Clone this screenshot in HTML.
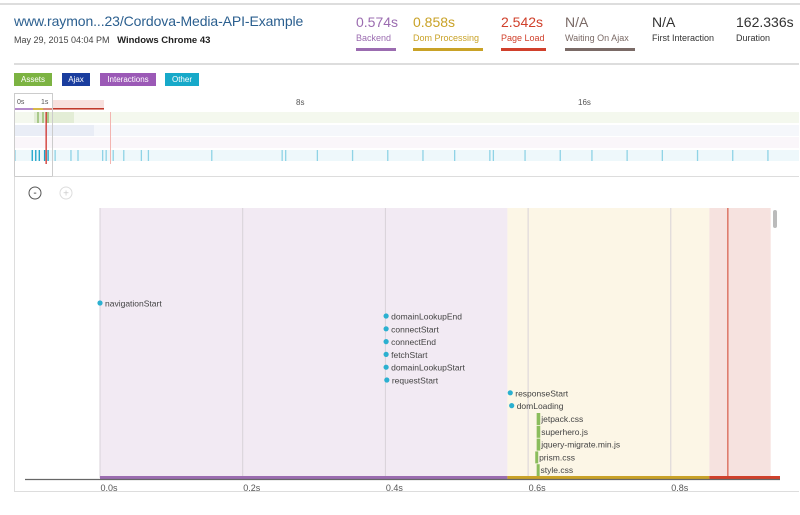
<!DOCTYPE html>
<html><head><meta charset="utf-8">
<style>
body{margin:0;width:800px;height:515px;background:#fff;font-family:"Liberation Sans",sans-serif;position:relative;overflow:hidden}
.a{position:absolute}
</style></head><body>
<div class="a" style="left:0;top:3px;width:800px;height:2px;background:#ddd"></div>
<div class="a" style="left:14px;top:13px;font-size:14px;letter-spacing:-0.1px;color:#2b5f8f">www.raymon...23/Cordova-Media-API-Example</div>
<div class="a" style="left:14px;top:35px;font-size:9px;color:#444">May 29, 2015 04:04 PM &nbsp; <b style="color:#222;font-size:9.5px">Windows Chrome 43</b></div>
<div id="metrics"></div>
<div class="a" style="left:14px;top:63px;width:785px;height:2px;background:#ddd"></div>
<div class="a" style="left:14px;top:73px;width:38px;height:13px;background:#7cb342;color:#fff;font-size:8px;text-align:center;line-height:13px">Assets</div>
<div class="a" style="left:62px;top:73px;width:28px;height:13px;background:#1a3d9e;color:#fff;font-size:8px;text-align:center;line-height:13px">Ajax</div>
<div class="a" style="left:100px;top:73px;width:56px;height:13px;background:#9b59b6;color:#fff;font-size:8px;text-align:center;line-height:13px">Interactions</div>
<div class="a" style="left:165px;top:73px;width:34px;height:13px;background:#17a9c9;color:#fff;font-size:8px;text-align:center;line-height:13px">Other</div>
<svg class="a" style="left:0;top:0" width="800" height="515" id="svg"></svg>
<script>
const metricValues=["0.574s","0.858s","2.542s","N/A","N/A","162.336s"];
const metricLabels=["Backend","Dom Processing","Page Load","Waiting On Ajax","First Interaction","Duration"];
const metricColors=["#9b6cb0","#c9a227","#d0402b","#7a6a66","#333","#333"];
const metricX=[356,413,501,565,652,736];
const metricBar=[40,70,45,70,0,0];
const markerNames=["navigationStart","domainLookupEnd","connectStart","connectEnd","fetchStart","domainLookupStart","requestStart","responseStart","domLoading"];
const markerTimes=[0,0.401,0.401,0.401,0.401,0.401,0.402,0.575,0.577];
const assetNames=["jetpack.css","superhero.js","jquery-migrate.min.js","prism.css","style.css"];
const assetStart=[0.612,0.612,0.612,0.61,0.612];
const assetEnd=[0.617,0.617,0.617,0.614,0.616];
const xTicks=[0,0.2,0.4,0.6,0.8];
const backendEnd=0.571, domEnd=0.854, loadEnd=0.94, loadLine=0.88;
const overviewTicks=[0,0.5,0.6,0.7,0.85,0.95,1.15,1.6,1.8,2.5,2.6,2.8,3.1,3.6,3.8,5.6,7.6,7.7,8.6,9.6,10.6,11.6,12.5,13.5,13.6,14.5,15.5,16.4,17.4,18.4,19.4,20.4,21.4];

const NS="http://www.w3.org/2000/svg",svg=document.getElementById('svg');
function el(tag,at,txt){const e=document.createElementNS(NS,tag);for(const k in at)e.setAttribute(k,at[k]);if(txt!=null)e.textContent=txt;svg.appendChild(e);return e;}
const X=t=>100+t*713.5;
const m=document.getElementById('metrics');
metricValues.forEach((v,i)=>{
 const d=document.createElement('div');d.className='a';
 
 
 d.style.cssText=`left:${metricX[i]}px;top:14px;color:${metricColors[i]}`;
 d.innerHTML=`<div style="font-size:14px">${v}</div><div style="font-size:9px;margin-top:3px">${metricLabels[i]}</div>`+(metricBar[i]?`<div style="width:${metricBar[i]}px;height:3px;background:${metricColors[i]};margin-top:5px"></div>`:'');
 m.appendChild(d);
});
const OX=t=>14+t*35.2;
let r;
r=el('rect',{x:14,y:112,width:785,height:11,fill:'#f4f8ee'});
el('rect',{x:34,y:112,width:40,height:11,fill:'#e3edd6'});
el('rect',{x:37,y:112,width:2,height:11,fill:'#a9c98a'});el('rect',{x:42,y:112,width:2,height:11,fill:'#a9c98a'});el('rect',{x:46,y:112,width:3,height:11,fill:'#a9c98a'});
r=el('rect',{x:14,y:125,width:785,height:11,fill:'#f5f7fb'});
el('rect',{x:14,y:125,width:80,height:11,fill:'#e9edf6'});
r=el('rect',{x:14,y:137,width:785,height:11,fill:'#faf6fa'});
r=el('rect',{x:14,y:150,width:785,height:11,fill:'#eef8fb'});
overviewTicks.forEach((t,i)=>{const e=el('rect',{x:OX(t),y:150,width:1.3,height:11,fill:i<6?'#1aa3c9':'#8fd3e6'});

});
el('rect',{x:52,y:100,width:52,height:10,fill:'#f8e0dd'});
el('rect',{x:52,y:108,width:52,height:1.5,fill:'#c0392b'});
el('rect',{x:14,y:108,width:19,height:2,fill:'#b48acb'});el('rect',{x:33,y:108,width:10,height:2,fill:'#d8b847'});el('rect',{x:43,y:108,width:9,height:2,fill:'#d88a7f'});
el('rect',{x:45.5,y:112,width:1.3,height:52,fill:'#d0302b'});
el('rect',{x:110,y:112,width:1,height:52,fill:'#f3b4b0'});
r=el('rect',{x:14.5,y:93.5,width:38,height:83,fill:'none',stroke:'#ccc'});
el('text',{x:17,y:104,'font-size':7,fill:'#555'},'0s');el('text',{x:41,y:104,'font-size':7,fill:'#555'},'1s');
el('text',{x:296,y:105,'font-size':8,fill:'#555'},'8s');el('text',{x:578,y:105,'font-size':8,fill:'#555'},'16s');
el('path',{d:'M52.5 176.5H799 M14.5 176.5V491.5H799',fill:'none',stroke:'#ddd'});
r=el('circle',{cx:35,cy:193,r:6,fill:'#fff',stroke:'#555'});
el('text',{x:35,y:196,'font-size':10,'text-anchor':'middle',fill:'#333'},'-');
r=el('circle',{cx:66,cy:193,r:6,fill:'#fff',stroke:'#ddd'});
el('text',{x:66,y:196.5,'font-size':10,'text-anchor':'middle',fill:'#ccc'},'+');
r=el('rect',{x:X(0),y:208,width:X(backendEnd)-X(0),height:270,fill:'#f2eaf3'});
r=el('rect',{x:X(backendEnd),y:208,width:X(domEnd)-X(backendEnd),height:270,fill:'#fcf6e6'});
r=el('rect',{x:X(domEnd),y:208,width:X(loadEnd)-X(domEnd),height:270,fill:'#f6e2df'});
xTicks.forEach(t=>{const l=el('line',{x1:X(t),x2:X(t),y1:208,y2:478,stroke:'#d8d2d8'});


const tx=el('text',{x:X(t)+9,y:491,'font-size':9,fill:'#555','text-anchor':'middle'},t.toFixed(1)+'s');

});
el('line',{x1:X(loadLine),x2:X(loadLine),y1:208,y2:478,stroke:'#d0402b','stroke-width':1});
r=el('rect',{x:773,y:210,width:4,height:18,rx:2,fill:'#bbb'});
markerNames.forEach((n,i)=>{const yy=i==0?303:316+12.8*(i-1);
const c=el('circle',{cx:X(markerTimes[i]),cy:yy,r:2.6,fill:'#2bb0d0'});


el('text',{x:X(markerTimes[i])+5,y:yy+3.5,'font-size':8.5,fill:'#444'},n);});
assetNames.forEach((n,i)=>{const y=413+12.8*i;
const b=el('rect',{x:X(assetStart[i]),y:y,width:Math.max(3,X(assetEnd[i])-X(assetStart[i])),height:12,fill:'#8bbd5c'});


el('text',{x:X(assetEnd[i])+1,y:y+9,'font-size':8.5,fill:'#444'},n);});
el('rect',{x:X(0),y:476,width:X(backendEnd)-X(0),height:3,fill:'#9b6cb0'});
el('rect',{x:X(backendEnd),y:476,width:X(domEnd)-X(backendEnd),height:3,fill:'#c9a227'});
el('rect',{x:X(domEnd),y:476,width:780-X(domEnd),height:3,fill:'#d0402b'});
r=el('line',{x1:25,x2:780,y1:479.5,y2:479.5,stroke:'#666','stroke-width':1.2});
</script>
</body></html>
